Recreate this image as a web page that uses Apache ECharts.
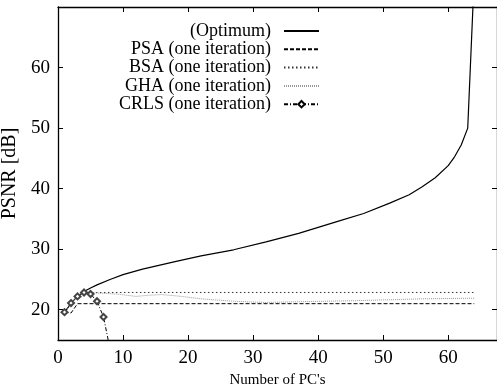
<!DOCTYPE html>
<html>
<head>
<meta charset="utf-8">
<script src="https://cdn.jsdelivr.net/npm/echarts@6/dist/echarts.min.js"></script>
<style>
  html, body { margin: 0; padding: 0; background: #fff; }
  #chart { width: 497px; height: 391px; }
</style>
</head>
<body>
<div id="chart"></div>
<script>
// values: [number of PCs, PSNR dB]
const optimum = [
  [1, 19.5], [2, 21.1], [3, 22.2], [4, 23.0], [5, 23.6], [6, 24.1], [8, 25.0],
  [10, 25.8], [13, 26.7], [18, 27.95], [22, 28.9], [27, 29.9], [32, 31.2],
  [37, 32.6], [43, 34.6], [47, 35.9], [51, 37.6], [54, 39.0], [56, 40.3],
  [58, 41.8], [60, 43.8], [61, 45.3], [62, 47.2], [63, 50.0], [64, 75]
];
const psa = [[1, 19.6], [2, 19.45], [3, 21.0], [64, 21.0]];
const bsa = [[1, 19.6], [2, 21.1], [3, 22.2], [4, 22.85], [64, 22.85]];
const gha = [
  [1, 19.6], [2, 21.1], [3, 22.2], [4, 22.9], [5, 22.8], [7, 22.7], [9, 22.6],
  [12, 22.2], [14, 22.4], [16, 22.5], [19, 22.2], [22, 21.8], [27, 21.4],
  [32, 21.2], [36, 21.3], [46, 21.5], [56, 21.8], [64, 21.9]
];
const crls = [[1, 19.6], [2, 21.1], [3, 22.2], [4, 22.85], [5, 22.6], [6, 21.4], [7, 18.8], [8, 13.5]];

const names = ['(Optimum)', 'PSA (one iteration)', 'BSA (one iteration)', 'GHA (one iteration)', 'CRLS (one iteration)'];
const yTicks = [20, 30, 40, 50, 60];

const font = 'Liberation Serif';
const axisLine = { show: true, onZero: false, lineStyle: { color: '#000', width: 1.3 } };
const tick = { show: true, inside: true, length: 5, lineStyle: { color: '#000', width: 1 } };
const hideSym = { color: 'transparent', borderColor: 'transparent', borderWidth: 0 };

// one legend per row so that every entry is right-aligned like the original key
const legends = names.map((n, i) => ({
  data: [n],
  right: 177,
  top: 22 + i * 18.3,
  align: 'right',
  orient: 'vertical',
  padding: 0,
  itemWidth: 35,
  itemHeight: 8,
  selectedMode: false,
  itemStyle: i < 4 ? hideSym : undefined,
  textStyle: { fontFamily: font, fontSize: 18, color: '#000', padding: [0, 8, 0, 0] }
}));

const option = {
  animation: false,
  backgroundColor: '#fff',
  grid: { left: 58, right: 0, top: 7, bottom: 51, outerBoundsMode: 'none', containLabel: false },
  legend: legends,
  xAxis: [{
    type: 'value', min: 0, max: 67.5, interval: 10,
    name: "Number of PC's", nameLocation: 'middle', nameGap: 33,
    nameTextStyle: { fontFamily: font, fontSize: 15, color: '#000' },
    axisLine: axisLine,
    axisTick: tick,
    axisLabel: {
      fontFamily: font, fontSize: 19, color: '#000', margin: 9,
      formatter: v => (v % 10 === 0 ? String(v) : '')
    },
    splitLine: { show: false }
  }, {
    type: 'value', min: 0, max: 67.5, interval: 10, position: 'top',
    axisLine: axisLine,
    axisTick: tick,
    axisLabel: { show: false },
    splitLine: { show: false }
  }],
  yAxis: [{
    type: 'value', min: 15, max: 70,
    name: 'PSNR [dB]', nameLocation: 'middle', nameGap: 26, nameRotate: 90,
    nameTextStyle: { fontFamily: font, fontSize: 20, color: '#000' },
    axisLine: axisLine,
    axisTick: Object.assign({}, tick, { customValues: yTicks }),
    axisLabel: { fontFamily: font, fontSize: 19, color: '#000', margin: 8, customValues: yTicks },
    splitLine: { show: false }
  }, {
    type: 'value', min: 15, max: 70, position: 'right',
    axisLine: axisLine,
    axisTick: Object.assign({}, tick, { customValues: yTicks }),
    axisLabel: { show: false },
    splitLine: { show: false }
  }],
  series: [{
    name: names[0], type: 'line', data: optimum, symbol: 'none',
    lineStyle: { color: '#000', width: 1.2 }, itemStyle: { color: '#000' }
  }, {
    name: names[1], type: 'line', data: psa, symbol: 'none',
    lineStyle: { color: '#000', width: 1, type: [4, 2] }, itemStyle: { color: '#000' }
  }, {
    name: names[2], type: 'line', data: bsa, symbol: 'none',
    lineStyle: { color: '#333', width: 1, type: [1.5, 2.5] }, itemStyle: { color: '#333' }
  }, {
    name: names[3], type: 'line', data: gha, symbol: 'none',
    lineStyle: { color: '#9a9a9a', width: 1, type: [1, 1] }, itemStyle: { color: '#9a9a9a' }
  }, {
    name: names[4], type: 'line', data: crls, symbol: 'emptyDiamond', symbolSize: 6,
    lineStyle: { color: '#000', width: 1, type: [4, 2, 1, 2] },
    itemStyle: { color: '#444', borderColor: '#222', borderWidth: 1 }
  }]
};

const chart = echarts.init(document.getElementById('chart'), null, { renderer: 'canvas' });
chart.setOption(option);
</script>
</body>
</html>
